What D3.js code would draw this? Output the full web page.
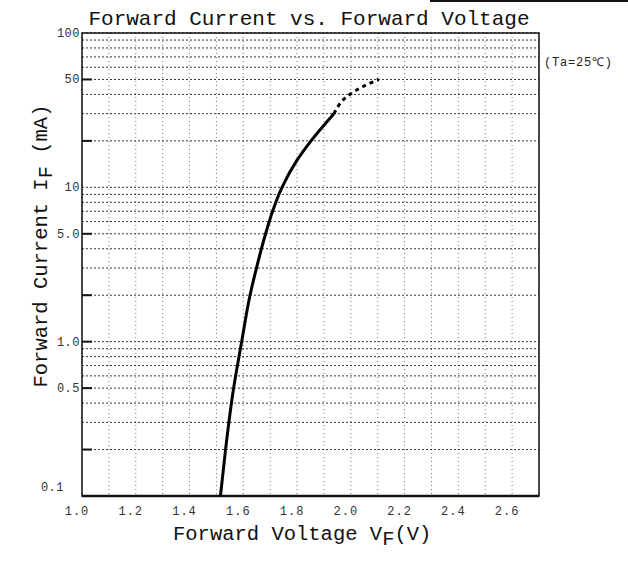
<!DOCTYPE html>
<html>
<head>
<meta charset="utf-8">
<script src="https://cdn.jsdelivr.net/npm/d3@7"></script>
<style>
  body { margin: 0; background: #fff; }
  text { font-family: "Liberation Mono", "DejaVu Sans Mono", monospace; }
</style>
</head>
<body>
<div id="chart-area"></div>
<script>
// forward current vs forward voltage
var vfSolid = [1.515, 1.534, 1.564, 1.594, 1.625, 1.649, 1.683, 1.709, 1.744, 1.800, 1.852, 1.937];
var ifSolid = [0.1, 0.2, 0.5, 1.0, 2.0, 3.0, 5.0, 7.0, 10, 15, 20, 30];
var vfDashed = [1.937, 1.996, 2.045, 2.104];
var ifDashed = [30, 40, 45, 50];

var xTickValues = [1.0, 1.2, 1.4, 1.6, 1.8, 2.0, 2.2, 2.4, 2.6];
var yTickValues = [100, 50, 10, 5, 1, 0.5, 0.1];
var yTickLabels = ["100", "50", "10", "5.0", "1.0", "0.5", "0.1"];
var yMajorTicks = [50, 20, 5, 2, 1, 0.5, 0.2];

var width = 628, height = 562;
// note: "top" is taken by window.top, so plot_* names
var plot_left = 82, plot_right = 539, plot_top = 33, plot_bottom = 496;

var svg = d3.select("#chart-area").append("svg")
	.attr("width", width)
	.attr("height", height);

var x = d3.scaleLinear()
	.domain([1.0, 2.7])
	.range([plot_left, plot_right]);

var y = d3.scaleLog()
	.domain([0.1, 100])
	.range([plot_bottom, plot_top]);

// scan edge at top right
svg.append("line")
	.attr("x1", 430).attr("x2", width)
	.attr("y1", 1).attr("y2", 1)
	.style("stroke", "#111")
	.style("stroke-width", 2);

// dotted grid
svg.append("g").selectAll("line")
	.data(x.ticks(17))
	.enter().append("line")
		.attr("x1", function(d){ return x(d); })
		.attr("x2", function(d){ return x(d); })
		.attr("y1", plot_top)
		.attr("y2", plot_bottom)
		.style("stroke", "#777")
		.style("stroke-width", 1)
		.style("stroke-dasharray", "1,3");

svg.append("g").selectAll("line")
	.data(y.ticks())
	.enter().append("line")
		.attr("x1", plot_left)
		.attr("x2", plot_right)
		.attr("y1", function(d){ return y(d); })
		.attr("y2", function(d){ return y(d); })
		.style("stroke", "#333")
		.style("stroke-width", 1)
		.style("stroke-dasharray", "2,2");

// frame
svg.append("rect")
	.attr("x", plot_left).attr("y", plot_top)
	.attr("width", plot_right - plot_left).attr("height", plot_bottom - plot_top)
	.style("fill", "none")
	.style("stroke", "#111")
	.style("stroke-width", 1.5);

svg.append("line")
	.attr("x1", plot_left).attr("x2", plot_right)
	.attr("y1", plot_bottom).attr("y2", plot_bottom)
	.style("stroke", "#111")
	.style("stroke-width", 2.5);

// short solid ticks on the left edge
svg.append("g").selectAll("line")
	.data(yMajorTicks)
	.enter().append("line")
		.attr("x1", plot_left)
		.attr("x2", plot_left + 10)
		.attr("y1", function(d){ return y(d); })
		.attr("y2", function(d){ return y(d); })
		.style("stroke", "#111")
		.style("stroke-width", 2);

// tick labels
svg.append("g").selectAll("text")
	.data(xTickValues)
	.enter().append("text")
		.attr("x", function(d){ return x(d) - 5; })
		.attr("y", 515)
		.attr("text-anchor", "middle")
		.style("font-size", "12px")
		.style("letter-spacing", "1px")
		.style("fill", "#333")
		.text(function(d){ return d3.format(".1f")(d); });

svg.append("g").selectAll("text")
	.data(yTickValues)
	.enter().append("text")
		.attr("x", function(d){ return d === 0.1 ? 64 : 80; })
		.attr("y", function(d){ return d === 0.1 ? y(d) - 5 : y(d) + 4; })
		.attr("text-anchor", "end")
		.style("font-size", "12px")
		.style("letter-spacing", "0.5px")
		.style("fill", "#333")
		.text(function(d, i){ return yTickLabels[i]; });

// curve
var line = d3.line()
	.x(function(d){ return x(d[0]); })
	.y(function(d){ return y(d[1]); })
	.curve(d3.curveMonotoneY);

svg.append("path")
	.datum(d3.zip(vfSolid, ifSolid))
	.attr("d", line)
	.style("fill", "none")
	.style("stroke", "#000")
	.style("stroke-width", 3);

svg.append("path")
	.datum(d3.zip(vfDashed, ifDashed))
	.attr("d", line)
	.style("fill", "none")
	.style("stroke", "#000")
	.style("stroke-width", 3)
	.style("stroke-dasharray", "4,4");

// titles
svg.append("text")
	.attr("x", 309)
	.attr("y", 25)
	.attr("text-anchor", "middle")
	.style("font-size", "21px")
	.style("fill", "#111")
	.text("Forward Current vs. Forward Voltage");

var xl = svg.append("text")
	.attr("x", 173)
	.attr("y", 540)
	.style("font-size", "20.5px")
	.style("fill", "#111");
xl.append("tspan").text("Forward Voltage V");
xl.append("tspan").attr("dy", 5).text("F");
xl.append("tspan").attr("dy", -5).text("(V)");

var yl = svg.append("text")
	.attr("transform", "translate(47,246) rotate(-90)")
	.attr("text-anchor", "middle")
	.style("font-size", "20.5px")
	.style("fill", "#111");
yl.append("tspan").text("Forward Current I");
yl.append("tspan").attr("dy", 5).text("F");
yl.append("tspan").attr("dy", -5).text(" (mA)");

svg.append("text")
	.attr("x", 544)
	.attr("y", 66)
	.style("font-size", "12px")
	.style("letter-spacing", "0.8px")
	.style("fill", "#222")
	.text("(Ta=25℃)");
</script>
</body>
</html>
